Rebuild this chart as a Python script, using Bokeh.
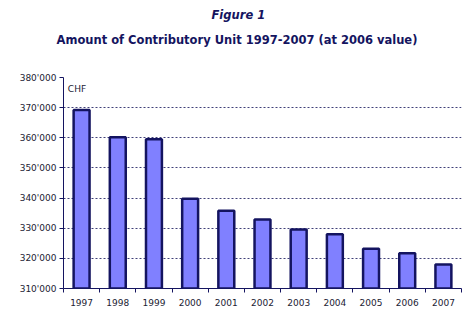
from bokeh.plotting import figure
from bokeh.models import Range1d, FixedTicker, Title, Label, ColumnDataSource
from bokeh.embed import file_html
from bokeh.resources import INLINE

years = ["1997", "1998", "1999", "2000", "2001", "2002", "2003", "2004", "2005", "2006", "2007"]
values = [369200, 360200, 359500, 339800, 335800, 332900, 329600, 328000, 323200, 321700, 318000]
y_ticks = [310000, 320000, 330000, 340000, 350000, 360000, 370000, 380000]
y_tick_labels = ["310'000", "320'000", "330'000", "340'000", "350'000", "360'000", "370'000", "380'000"]
unit_label = "CHF"
title_text = "Amount of Contributory Unit 1997-2007 (at 2006 value)"
figure_text = "Figure 1"

NAVY = "#141460"
FONT = "DejaVu Sans"

xpos = [i + 0.5 for i in range(len(years))]
src = ColumnDataSource(dict(x=xpos, top=values, year=years))

p = figure(width=475, height=324, output_backend="svg", toolbar_location=None,
           x_range=Range1d(0, len(years)), y_range=Range1d(310000, 380000),
           min_border_left=63, min_border_right=14, min_border_bottom=36, min_border_top=0)
p.outline_line_color = None
p.background_fill_color = "white"
p.border_fill_color = "white"

# spacer between frame and subtitle
p.add_layout(Title(text=" ", align="left", text_font=FONT, text_font_size="11.5px",
                   standoff=11), "above")
p.add_layout(Title(text=title_text, align="left", offset=-7, text_font=FONT,
                   text_font_size="11.5px", text_font_style="bold", text_color=NAVY,
                   standoff=7), "above")
p.add_layout(Title(text=figure_text, align="left", offset=148, text_font=FONT,
                   text_font_size="11.5px", text_font_style="bold italic", text_color=NAVY,
                   standoff=11), "above")

p.vbar(x="x", top="top", bottom=310000, width=0.44, source=src,
       fill_color="#8080ff", line_color=NAVY, line_width=2.5)

p.xgrid.visible = False
p.ygrid.ticker = FixedTicker(ticks=y_ticks)
p.ygrid.grid_line_color = "#404078"
p.ygrid.grid_line_dash = "2 2"
p.ygrid.grid_line_width = 1

ya = p.yaxis[0]
ya.ticker = FixedTicker(ticks=y_ticks)
ya.major_label_overrides = {t: l for t, l in zip(y_ticks, y_tick_labels)}
ya.axis_line_color = NAVY
ya.major_tick_line_color = NAVY
ya.major_tick_out = 4
ya.major_tick_in = 0
ya.minor_tick_line_color = None
ya.major_label_text_font = FONT
ya.major_label_text_font_size = "9px"
ya.major_label_text_color = "#222233"
ya.major_label_standoff = 3

xa = p.xaxis[0]
xa.ticker = FixedTicker(ticks=xpos, minor_ticks=list(range(len(years) + 1)))
xa.major_label_overrides = {x: y for x, y in zip(xpos, years)}
xa.axis_line_color = NAVY
xa.major_tick_line_color = None
xa.minor_tick_line_color = NAVY
xa.minor_tick_out = 4
xa.minor_tick_in = 0
xa.major_label_text_font = FONT
xa.major_label_text_font_size = "9px"
xa.major_label_text_color = "#222233"
xa.major_label_standoff = 4

p.add_layout(Label(x=0.12, y=376300, text=unit_label, text_font=FONT, text_font_size="9px",
                   text_color="#222233", text_baseline="middle"))

open("out.html", "w").write(file_html(p, INLINE))
